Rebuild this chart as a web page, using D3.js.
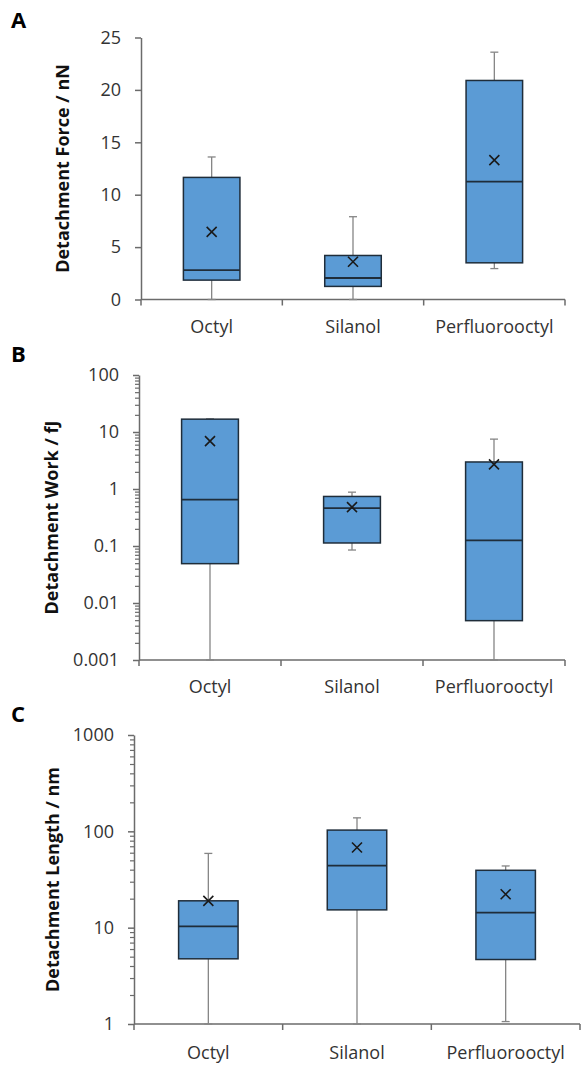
<!DOCTYPE html>
<html>
<head>
<meta charset="utf-8">
<script src="https://cdn.jsdelivr.net/npm/d3@7"></script>
<style>
  body { margin: 0; background: #fff; }
  svg { display: block; }
  text { font-family: "Open Sans", "Noto Sans", sans-serif; }
</style>
</head>
<body>
<script>
// categories shared by all three panels
const categories = ["Octyl", "Silanol", "Perfluorooctyl"];

// panel A - detachment force (nN), [min, q1, median, q3, max, mean]
const forceStats = [
  [0, 1.85, 2.8, 11.65, 13.6, 6.45],
  [0, 1.25, 2.05, 4.2, 7.9, 3.6],
  [2.95, 3.5, 11.25, 20.9, 23.6, 13.3]
];
const forceTicks = [0, 5, 10, 15, 20, 25];

// panel B - detachment work (fJ)
const workStats = [
  [0.001, 0.049, 0.65, 16.8, 17, 6.9],
  [0.085, 0.113, 0.46, 0.74, 0.88, 0.48],
  [0.001, 0.0049, 0.126, 2.98, 7.5, 2.7]
];
const workTicks = [0.001, 0.01, 0.1, 1, 10, 100];

// panel C - detachment length (nm)
const lengthStats = [
  [1, 4.75, 10.3, 19, 59, 19],
  [1, 15.3, 44, 103, 138, 68],
  [1.06, 4.67, 14.3, 39.4, 43.7, 22.2]
];
const lengthTicks = [1, 10, 100, 1000];

const W = 582, H = 1070;
const svg = d3.select("body").append("svg").attr("width", W).attr("height", H);

const boxFill = "#5b9bd5", boxStroke = "#1f2d3a", whiskerCol = "#858585", axisCol = "#6b6b6b";

function panel(opt) {
  const g = svg.append("g");
  const x = d3.scaleBand().domain(categories).range([opt.x0, opt.x1]);
  let y;
  if (opt.log) {
    y = d3.scaleLog().domain([opt.ticks[0], opt.ticks[opt.ticks.length - 1]]).range([opt.yb, opt.yt]);
  } else {
    y = d3.scaleLinear().domain([opt.ticks[0], opt.ticks[opt.ticks.length - 1]]).range([opt.yb, opt.yt]);
  }

  // minor log ticks
  if (opt.log) {
    const minor = y.ticks().filter(v => opt.ticks.indexOf(v) < 0);
    const ma = g.append("g").attr("transform", `translate(${opt.x0},0)`)
      .call(d3.axisLeft(y).tickValues(minor).tickSize(4).tickFormat(""));
    ma.select(".domain").remove();
    ma.selectAll("line").attr("stroke", axisCol).attr("stroke-width", 1.2);
  }

  // y axis
  const ya = g.append("g").attr("transform", `translate(${opt.x0},0)`)
    .call(d3.axisLeft(y).tickValues(opt.ticks).tickSize(6).tickPadding(14).tickSizeOuter(0)
      .tickFormat(d => String(d)));
  ya.select(".domain").attr("stroke", axisCol).attr("stroke-width", 1.5);
  ya.selectAll("line").attr("stroke", axisCol).attr("stroke-width", 1.5);
  ya.selectAll("text").attr("font-size", 18).attr("fill", "#333")
    .attr("font-family", "'Open Sans', sans-serif");

  // x axis line and boundary ticks
  const bounds = categories.map(c => x(c)).concat([opt.x1]);
  g.append("line").attr("x1", opt.x0).attr("x2", opt.x1).attr("y1", opt.yb).attr("y2", opt.yb)
    .attr("stroke", axisCol).attr("stroke-width", 1.5);
  g.selectAll(".bt").data(bounds).enter().append("line")
    .attr("x1", d => d).attr("x2", d => d).attr("y1", opt.yb).attr("y2", opt.yb + 6)
    .attr("stroke", axisCol).attr("stroke-width", 1.5);
  g.selectAll(".cl").data(categories).enter().append("text")
    .attr("x", d => x(d) + x.bandwidth() / 2).attr("y", opt.labY)
    .attr("text-anchor", "middle").attr("font-size", 18).attr("fill", "#333")
    .text(d => d);

  // boxes
  const bw = x.bandwidth() * 0.4;
  const cap = 8;
  opt.stats.forEach((s, i) => {
    const cx = x(categories[i]) + x.bandwidth() / 2;
    const [mn, q1, md, q3, mx, mean] = s;
    // whiskers
    g.append("line").attr("x1", cx).attr("x2", cx).attr("y1", y(mn)).attr("y2", y(q1))
      .attr("stroke", whiskerCol).attr("stroke-width", 1.3);
    g.append("line").attr("x1", cx).attr("x2", cx).attr("y1", y(q3)).attr("y2", y(mx))
      .attr("stroke", whiskerCol).attr("stroke-width", 1.3);
    [mn, mx].forEach(v => {
      g.append("line").attr("x1", cx - cap / 2).attr("x2", cx + cap / 2).attr("y1", y(v)).attr("y2", y(v))
        .attr("stroke", whiskerCol).attr("stroke-width", 1.3);
    });
    g.append("rect").attr("x", cx - bw / 2).attr("width", bw)
      .attr("y", y(q3)).attr("height", y(q1) - y(q3))
      .attr("fill", boxFill).attr("stroke", boxStroke).attr("stroke-width", 1.5);
    g.append("line").attr("x1", cx - bw / 2).attr("x2", cx + bw / 2).attr("y1", y(md)).attr("y2", y(md))
      .attr("stroke", boxStroke).attr("stroke-width", 1.8);
    // mean marker
    const m = 5, my = y(mean);
    g.append("path").attr("d", `M${cx - m},${my - m}L${cx + m},${my + m}M${cx - m},${my + m}L${cx + m},${my - m}`)
      .attr("stroke", "#1a1a1a").attr("stroke-width", 1.6).attr("fill", "none");
  });

  // axis title
  g.append("text").attr("transform", `translate(${opt.titleX},${(opt.yt + opt.yb) / 2}) rotate(-90)`)
    .attr("text-anchor", "middle").attr("dominant-baseline", "central")
    .attr("font-size", 18).attr("font-weight", "bold").attr("fill", "#111")
    .text(opt.title);

  // panel letter
  g.append("text").attr("x", 11).attr("y", opt.letterY).attr("font-size", 22).attr("font-weight", "bold")
    .attr("fill", "#000").text(opt.letter);
}

panel({ letter: "A", letterY: 28, title: "Detachment Force / nN", titleX: 62,
  stats: forceStats, ticks: forceTicks, log: false,
  x0: 141, x1: 565, yt: 37.5, yb: 299.5, labY: 333 });
panel({ letter: "B", letterY: 362, title: "Detachment Work / fJ", titleX: 51,
  stats: workStats, ticks: workTicks, log: true,
  x0: 139, x1: 565, yt: 375, yb: 660, labY: 693 });
panel({ letter: "C", letterY: 722, title: "Detachment Length / nm", titleX: 52,
  stats: lengthStats, ticks: lengthTicks, log: true,
  x0: 134, x1: 580, yt: 735, yb: 1024, labY: 1059 });
</script>
</body>
</html>
